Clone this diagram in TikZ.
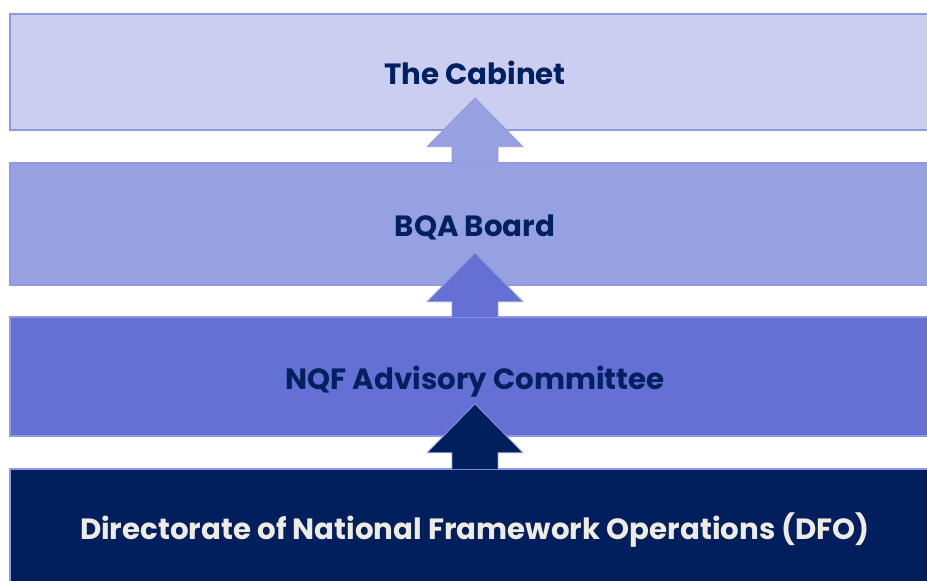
\documentclass[tikz,border=0pt]{standalone}
\usepackage{fontspec}
\setmainfont{Poppins}
\usetikzlibrary{calc,positioning}

\definecolor{boxA}{HTML}{CBCEF1}
\definecolor{boxB}{HTML}{97A0E1}
\definecolor{boxC}{HTML}{6570D4}
\definecolor{boxD}{HTML}{001F5C}
\definecolor{edge}{HTML}{8F98E0}
\definecolor{navy}{HTML}{002060}
\definecolor{cream}{HTML}{EEEBE3}

\tikzset{
  level/.style={rectangle, draw=edge, line width=1.5pt, minimum width=930bp, inner sep=0pt,
    text height=30bp, text depth=4bp, font=\fontsize{29.4}{34}\selectfont\bfseries},
  blockarrow/.style={draw=edge, line width=0.8pt, line join=miter}
}

\begin{document}
\begin{tikzpicture}[x=1bp,y=1bp]
       \useasboundingbox (0,0) rectangle (927,581);
       \clip (0,0) rectangle (927,581);
        % the four levels, top to bottom
        \foreach \nm/\ylo/\yhi/\col/\txt/\lbl in {cab/451/567/boxA/navy/The Cabinet, bqa/296/418/boxB/navy/BQA Board, nqf/145/264/boxC/navy/NQF Advisory Committee, dfo/-4/112/boxD/cream/Directorate of National Framework Operations (DFO)}
          {\node[level, fill=\col, text=\txt, minimum height=\yhi bp-\ylo bp] (\nm) at (475,{(\ylo+\yhi)/2}) {\lbl};}
        % block arrows from each level up to the next
        \foreach \lo/\hi/\col in {dfo/nqf/boxD, nqf/bqa/boxC, bqa/cab/boxB}
          {\path[blockarrow, fill=\col] let \p1=(\lo.north), \p2=(\hi.south) in
             (\x1-23,\y1-1) -- (\x1-23,\y2-16) -- (\x1-48,\y2-16) -- (\x1,\y2+33)
             -- (\x1+48,\y2-16) -- (\x1+23,\y2-16) -- (\x1+23,\y1-1);}
    \end{tikzpicture}
\end{document}
